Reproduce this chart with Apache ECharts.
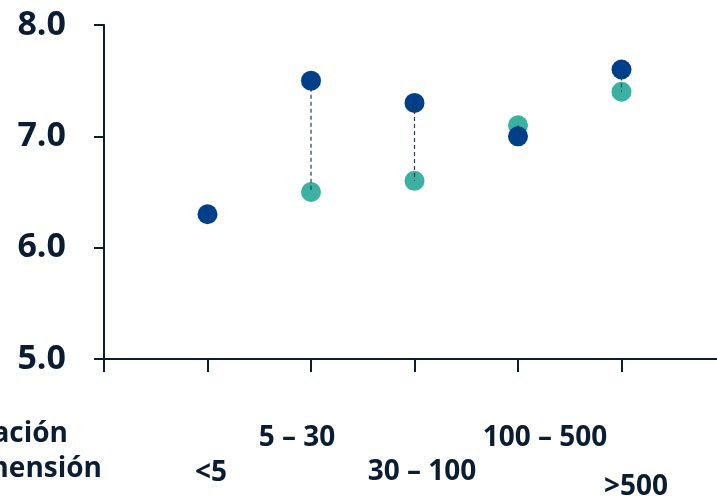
<!DOCTYPE html>
<html><head><meta charset="utf-8">
<script src="https://cdn.jsdelivr.net/npm/echarts@6/dist/echarts.min.js"></script>
<style>html,body{margin:0;padding:0;background:#fff;overflow:hidden}#c{width:740px;height:498px}</style>
</head><body><div id="c"></div>
<script>
var categories = ['<5', '5 – 30', '30 – 100', '100 – 500', '>500'];
var navyValues = [6.3, 7.5, 7.3, 7.0, 7.6];
var tealValues = [null, 6.5, 6.6, 7.1, 7.4];
var yTicks = [5, 6, 7, 8];
var rowLabels = ['Población', 'Dimensión'];

var dark = '#0b1d33';
var navy = '#00408a';
var teal = '#3bb2a1';

function pts(vals){ var o=[]; vals.forEach(function(v,i){ if(v!=null) o.push([i+1,v]); }); return o; }
var links = [];
categories.forEach(function(c,i){ if(navyValues[i]!=null && tealValues[i]!=null) links.push([i+1, navyValues[i], tealValues[i]]); });

var chart = echarts.init(document.getElementById('c'), null, {renderer:'canvas'});
var font = '"Open Sans", "Noto Sans", sans-serif';
chart.setOption({
  animation:false,
  grid:{left:104, top:25, width:621, height:334},
  xAxis:{type:'value', min:0, max:6, interval:1,
    axisLine:{show:true, onZero:false, lineStyle:{color:dark, width:2}},
    axisTick:{show:true, length:13, lineStyle:{color:dark, width:2}},
    axisLabel:{show:false}, splitLine:{show:false}},
  yAxis:{type:'value', min:yTicks[0], max:yTicks[yTicks.length-1], interval:1,
    axisLine:{show:true, lineStyle:{color:dark, width:2}},
    axisTick:{show:true, length:10, lineStyle:{color:dark, width:2}},
    axisLabel:{margin:38, color:dark, fontSize:34, fontWeight:'bold', fontFamily:font,
      formatter:function(v){return v.toFixed(1);}},
    splitLine:{show:false}},
  series:[
    {type:'scatter', data:pts(tealValues), symbolSize:20, itemStyle:{color:teal, opacity:1}, z:2},
    {type:'scatter', data:pts(navyValues), symbolSize:20, itemStyle:{color:navy, opacity:1}, z:3},
    {type:'custom', data:links, z:4,
      renderItem:function(params, api){
        var a = api.coord([api.value(0), api.value(1)]);
        var b = api.coord([api.value(0), api.value(2)]);
        return {type:'line', shape:{x1:a[0],y1:a[1],x2:b[0],y2:b[1]},
          style:{stroke:'#2b3b57', lineWidth:1.2, lineDash:[4,3]}};
      }}
  ],
  graphic:[
    {type:'text', left:0, top:0, style:{text:'', fill:dark}},
    {type:'text', x:68, y:434, style:{text:rowLabels[0], fill:dark, font:'bold 28px '+font, textAlign:'right', textVerticalAlign:'middle'}},
    {type:'text', x:102, y:469, style:{text:rowLabels[1], fill:dark, font:'bold 28px '+font, textAlign:'right', textVerticalAlign:'middle'}},
    {type:'text', x:211, y:473, style:{text:categories[0], fill:dark, font:'bold 28px '+font, textAlign:'center', textVerticalAlign:'middle'}},
    {type:'text', x:297, y:438, style:{text:categories[1], fill:dark, font:'bold 28px '+font, textAlign:'center', textVerticalAlign:'middle'}},
    {type:'text', x:422, y:472, style:{text:categories[2], fill:dark, font:'bold 28px '+font, textAlign:'center', textVerticalAlign:'middle'}},
    {type:'text', x:545, y:438, style:{text:categories[3], fill:dark, font:'bold 28px '+font, textAlign:'center', textVerticalAlign:'middle'}},
    {type:'text', x:636, y:487, style:{text:categories[4], fill:dark, font:'bold 28px '+font, textAlign:'center', textVerticalAlign:'middle'}}
  ]
});
</script></body></html>
